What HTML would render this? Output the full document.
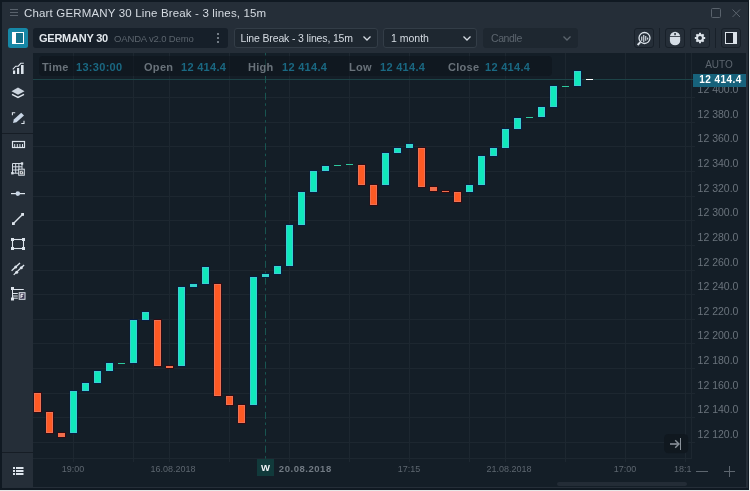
<!DOCTYPE html>
<html><head><meta charset="utf-8"><title>Chart</title>
<style>
html,body{margin:0;padding:0;background:#101922;}
body{width:750px;height:491px;position:relative;overflow:hidden;font-family:"Liberation Sans",sans-serif;}
.abs{position:absolute}
#win{position:absolute;left:2px;top:2px;width:746px;height:486px;background:#252e38;}
#chart{position:absolute;left:33px;top:53px;width:713px;height:434px;background:#141e27;}
#title{position:absolute;left:24px;top:5px;font-size:11.5px;letter-spacing:0.16px;color:#d5dbe2;white-space:nowrap;line-height:16px}
.pl{position:absolute;left:691px;width:54px;text-align:center;font-size:10.5px;color:#6a737c;line-height:12px;white-space:nowrap}
.tl{position:absolute;top:463px;font-size:9px;color:#5d666f;line-height:12px;white-space:nowrap;transform:translateX(-50%)}
.dd{position:absolute;top:28px;height:18px;border:1px solid #333d47;border-radius:3px;background:#1e2730;font-size:10.5px;color:#d5dbe2;line-height:18px;white-space:nowrap}
.dd span{position:absolute;left:5.500px;top:0}
.btn{position:absolute;top:28px;width:18px;height:18px;border:1px solid #182029;border-radius:3px;background:#252e38}
.sep{position:absolute;top:28px;width:1px;height:20px;background:#182029}
.il{position:absolute;top:56.500px;font-size:11px;font-weight:bold;line-height:20px;white-space:nowrap;letter-spacing:0.3px}
.k{color:#69727a} .v{color:#1a6882}
</style></head><body>
<div id="wrap" style="position:absolute;left:0;top:0;width:750px;height:491px;will-change:transform">
<div id="win"></div>
<div id="chart"></div>
<div class="abs" style="left:0;top:490px;width:750px;height:1px;background:#e8e8e8"></div>
<div class="abs" style="left:749px;top:0;width:1px;height:491px;background:#e8e8e8"></div>
<!-- title -->
<svg class="abs" style="left:0;top:0" width="750" height="27">
<g stroke="#59626c" stroke-width="1" fill="none">
<path d="M10 9.5H18M10 12.5H18M10 15.5H18"/>
<rect x="711.5" y="8.5" width="9" height="9" rx="1"/>
<path d="M732.5 9.5L740 17M740 9.5L732.5 17"/>
</g></svg>
<div id="title">Chart GERMANY 30 Line Break - 3 lines, 15m</div>
<!-- toolbar -->
<div class="abs" style="left:8px;top:28px;width:20px;height:20px;background:#1687a6;border-radius:2.500px"></div>
<svg class="abs" style="left:8px;top:28px" width="20" height="20"><rect x="4.5" y="4.5" width="11" height="11" fill="#14708a" stroke="#fff" stroke-width="1"/><rect x="4" y="4" width="4" height="12" fill="#fff"/></svg>
<div class="abs" style="left:33px;top:28px;width:195px;height:20px;background:#161f29;border-radius:3px"></div>
<div class="abs" style="left:39px;top:28px;font-size:11px;font-weight:bold;color:#e2e7ec;line-height:20px;white-space:nowrap;letter-spacing:-0.24px">GERMANY 30</div>
<div class="abs" style="left:114px;top:28px;font-size:9.5px;letter-spacing:-0.15px;color:#5b646d;line-height:21px;white-space:nowrap">OANDA v2.0 Demo</div>
<svg class="abs" style="left:214px;top:30px" width="8" height="16"><g fill="#727b84"><rect x="3" y="3" width="2" height="2"/><rect x="3" y="7" width="2" height="2"/><rect x="3" y="11" width="2" height="2"/></g></svg>
<div class="dd" style="left:234px;width:142px"><span style="letter-spacing:-0.15px">Line Break - 3 lines, 15m</span></div>
<div class="dd" style="left:383px;width:92px"><span style="left:7px">1 month</span></div>
<div class="dd" style="left:483px;width:93px;border-color:#1e2730;color:#5c656e"><span style="left:7px;letter-spacing:-0.4px">Candle</span></div>
<svg class="abs" style="left:0;top:28px" width="750" height="20"><g fill="none" stroke="#d5dbe2" stroke-width="1.3"><path d="M363.5 8.5L367 12L370.500 8.500"/><path d="M463.500 8.500L467 12L470.500 8.500"/><path d="M563.500 8.500L567 12L570.500 8.500" stroke="#5c656e"/></g></svg>
<div class="btn" style="left:634px"></div>
<div class="sep" style="left:659px"></div>
<div class="btn" style="left:665px"></div>
<div class="btn" style="left:690px"></div>
<div class="sep" style="left:715px"></div>
<div class="btn" style="left:721px"></div>
<svg class="abs" style="left:634px;top:28px" width="108" height="20">
<g fill="none" stroke="#dce3ea" stroke-width="1.300"><circle cx="10.500" cy="10" r="5.500"/><path d="M6.400 14.200L3.600 17" stroke-width="1.900"/></g>
<g fill="#dce3ea"><rect x="7.200" y="8.500" width="1.100" height="4.300"/><rect x="9.200" y="7" width="1.100" height="7"/><rect x="11.200" y="8" width="1.100" height="4.800"/><rect x="13.100" y="9.600" width="1.100" height="2"/></g>
<!-- mouse -->
<path d="M35.900 9 a5.150 5.300 0 0 1 10.300 0 v3.700 a5.150 4.500 0 0 1 -10.300 0z" fill="#d5dde6"/>
<rect x="35.500" y="8" width="11.200" height="0.800" fill="#252e38"/><rect x="40.300" y="5" width="1.500" height="2.200" fill="#252e38"/>
<!-- gear -->
<g transform="translate(66,10) scale(0.82)"><circle r="3.600" fill="none" stroke="#dce3ea" stroke-width="2.400"/>
<g stroke="#dce3ea" stroke-width="2.400"><path d="M0 -6.300V-4M0 6.300V4M-6.300 0H-4M6.300 0H4M-4.400 -4.400L-3 -3M4.400 4.400L3 3M-4.400 4.400L-3 3M4.400 -4.400L3 -3"/></g></g>
<!-- panel icon -->
<rect x="91.500" y="4.500" width="11" height="11" fill="#1b222b" stroke="#dce3ea" stroke-width="1"/><rect x="99" y="4" width="4" height="12" fill="#dce3ea"/>
</svg>
<!-- left panel -->
<div class="abs" style="left:2px;top:133px;width:31px;height:1px;background:#161d25"></div>
<div class="abs" style="left:2px;top:452px;width:31px;height:1px;background:#161d25"></div>
<svg class="abs" style="left:0;top:0" width="40" height="491">
<g fill="#dde4ec" stroke="none">
<!-- bars -->
<rect x="13" y="70.500" width="2.200" height="3.500"/><rect x="17" y="68" width="2.200" height="6"/><rect x="21" y="65" width="2.600" height="9"/>
<path d="M12.800 69.300L15.700 66.200H18.200L20.800 63.300H23.800" fill="none" stroke="#dde4ec" stroke-width="1.100"/>
<!-- layers -->
<path d="M18 87.600L24.500 91.200L18 94.800L11.500 91.200Z" fill="#cbd4de"/>
<path d="M12 94.300L18 97.500L24 94.300" fill="none" stroke="#dde4ec" stroke-width="1.500"/>
<!-- pencil -->
<path d="M12.400 115.200V112.700H15.200M24 120.800V123.500H21.300" fill="none" stroke="#dde4ec" stroke-width="1.100"/>
<path d="M13 123L13.800 119.600L21.200 112.800L24 115.400L16.500 122.300Z" fill="#c9d6e6"/>
<!-- ruler -->
<rect x="12.500" y="141.500" width="12" height="6" fill="none" stroke="#dde4ec" stroke-width="1.200"/>
<rect x="14.200" y="144" width="1" height="3"/><rect x="16.800" y="144" width="1" height="3"/><rect x="19.400" y="144" width="1" height="3"/><rect x="22" y="144" width="1" height="3"/>
<!-- grid G -->
<g fill="none" stroke="#d3dbe4" stroke-width="1"><path d="M12.500 163.500H22M12.500 166.800H22M12.500 170H19M12.500 173.200H19M12.500 163.500V173.200M15.700 163.500V173.200M18.900 163.500V170M22 163.500V169"/></g>
<rect x="11.200" y="172" width="2.400" height="2.400"/><rect x="20.800" y="162.300" width="2.400" height="2.400"/>
<rect x="18.700" y="169.200" width="5.600" height="6" fill="#252e38" stroke="#dde4ec" stroke-width="1"/>
<path d="M22.900 171.200H20.300V173.800H22.900V172.500H21.800" fill="none" stroke="#fff" stroke-width="0.900"/>
<!-- hline -->
<rect x="11" y="193" width="14" height="1.200"/><circle cx="17.800" cy="193.600" r="2.300" fill="#c9d6e6"/>
<!-- trend -->
<path d="M13.400 223.500L22.500 214.400" stroke="#dde4ec" stroke-width="1.400"/>
<rect x="12" y="222.200" width="2.800" height="2.800"/><rect x="21.200" y="213" width="2.800" height="2.800"/>
<!-- rect -->
<rect x="12.500" y="239.500" width="11" height="9" fill="none" stroke="#dde4ec" stroke-width="1.100"/>
<rect x="11" y="238" width="3" height="3"/><rect x="22" y="238" width="3" height="3"/><rect x="11" y="247" width="3" height="3"/><rect x="22" y="247" width="3" height="3"/>
<!-- channel -->
<path d="M11.600 270.800L20 263M13.700 274.900L24.100 265" stroke="#dde4ec" stroke-width="1.300"/>
<circle cx="15.700" cy="267" r="1.500"/><circle cx="21.300" cy="267.700" r="1.500"/><circle cx="16.700" cy="272.300" r="1.500"/>
<!-- fib -->
<path d="M12.500 288V299.500M12.500 289.500H23.800M12.500 293.500H17.800M12.500 296H17.800M12.500 298.200H17.800" fill="none" stroke="#dde4ec" stroke-width="1"/>
<rect x="11" y="287" width="3" height="3"/><rect x="11" y="297.500" width="3" height="3"/>
<rect x="19.200" y="292.700" width="5.800" height="6.600" fill="#3a3550" stroke="#dde4ec" stroke-width="1"/>
<path d="M21 298V294.300H23.400M21 296.200H22.800" fill="none" stroke="#fff" stroke-width="1"/>
<!-- list -->
<rect x="13" y="467" width="2" height="2"/><rect x="16" y="467" width="7.500" height="2"/>
<rect x="13" y="470" width="2" height="2"/><rect x="16" y="470" width="7.500" height="2"/>
<rect x="13" y="473" width="2" height="2"/><rect x="16" y="473" width="7.500" height="2"/>
</g>
</svg>
<!-- chart -->
<svg class="abs" style="left:0;top:0" width="750" height="491">
<rect x="33" y="97" width="662" height="1" fill="#1d2730"/>
<rect x="33" y="122" width="662" height="1" fill="#1d2730"/>
<rect x="33" y="146" width="662" height="1" fill="#1d2730"/>
<rect x="33" y="171" width="662" height="1" fill="#1d2730"/>
<rect x="33" y="196" width="662" height="1" fill="#1d2730"/>
<rect x="33" y="220" width="662" height="1" fill="#1d2730"/>
<rect x="33" y="245" width="662" height="1" fill="#1d2730"/>
<rect x="33" y="270" width="662" height="1" fill="#1d2730"/>
<rect x="33" y="294" width="662" height="1" fill="#1d2730"/>
<rect x="33" y="319" width="662" height="1" fill="#1d2730"/>
<rect x="33" y="343" width="662" height="1" fill="#1d2730"/>
<rect x="33" y="368" width="662" height="1" fill="#1d2730"/>
<rect x="33" y="393" width="662" height="1" fill="#1d2730"/>
<rect x="33" y="417" width="662" height="1" fill="#1d2730"/>
<rect x="33" y="442" width="662" height="1" fill="#1d2730"/>
<rect x="73" y="53" width="1" height="409" fill="#1d2730"/>
<rect x="133" y="53" width="1" height="409" fill="#1d2730"/>
<rect x="169" y="53" width="1" height="409" fill="#1d2730"/>
<rect x="229" y="53" width="1" height="409" fill="#1d2730"/>
<rect x="289" y="53" width="1" height="409" fill="#1d2730"/>
<rect x="349" y="53" width="1" height="409" fill="#1d2730"/>
<rect x="409" y="53" width="1" height="409" fill="#1d2730"/>
<rect x="469" y="53" width="1" height="409" fill="#1d2730"/>
<rect x="505" y="53" width="1" height="409" fill="#1d2730"/>
<rect x="565" y="53" width="1" height="409" fill="#1d2730"/>
<rect x="625" y="53" width="1" height="409" fill="#1d2730"/>
<rect x="685" y="53" width="1" height="409" fill="#1d2730"/>
<rect x="691" y="53" width="1" height="406" fill="#1d2730"/>
<rect x="33" y="458" width="659" height="1" fill="#1d2730"/>
<rect x="33" y="79" width="660" height="1" fill="#1d4347"/>
<line x1="265.5" y1="53" x2="265.5" y2="459" stroke="#185551" stroke-width="1" stroke-dasharray="7 3.500 2.500 3.800" stroke-dashoffset="10.600"/>
<rect x="34" y="392" width="8" height="21" fill="#3a060c" opacity="0.8"/>
<rect x="33" y="392" width="1" height="21" fill="#3a060c" opacity="0.35"/>
<rect x="34" y="393" width="7" height="19" fill="#ff5a24"/>
<rect x="34.5" y="393.5" width="6" height="18" fill="none" stroke="#dc8a86" stroke-width="1" opacity="0.5"/>
<rect x="46" y="411" width="8" height="23" fill="#3a060c" opacity="0.8"/>
<rect x="45" y="411" width="1" height="23" fill="#3a060c" opacity="0.35"/>
<rect x="46" y="412" width="7" height="21" fill="#ff5a24"/>
<rect x="46.5" y="412.5" width="6" height="20" fill="none" stroke="#dc8a86" stroke-width="1" opacity="0.5"/>
<rect x="58" y="432" width="8" height="6" fill="#3a060c" opacity="0.8"/>
<rect x="57" y="432" width="1" height="6" fill="#3a060c" opacity="0.35"/>
<rect x="58" y="433" width="7" height="4" fill="#ff5a24"/>
<rect x="58" y="433" width="7" height="4" fill="#dc8a86" opacity="0.4"/>
<rect x="70" y="390" width="8" height="44" fill="#031c46" opacity="0.8"/>
<rect x="69" y="390" width="1" height="44" fill="#031c46" opacity="0.35"/>
<rect x="70" y="391" width="7" height="42" fill="#10e8bc"/>
<rect x="70.5" y="391.5" width="6" height="41" fill="none" stroke="#6ab4e6" stroke-width="1" opacity="0.5"/>
<rect x="82" y="382" width="8" height="10" fill="#031c46" opacity="0.8"/>
<rect x="81" y="382" width="1" height="10" fill="#031c46" opacity="0.35"/>
<rect x="82" y="383" width="7" height="8" fill="#10e8bc"/>
<rect x="82.5" y="383.5" width="6" height="7" fill="none" stroke="#6ab4e6" stroke-width="1" opacity="0.5"/>
<rect x="94" y="370" width="8" height="14" fill="#031c46" opacity="0.8"/>
<rect x="93" y="370" width="1" height="14" fill="#031c46" opacity="0.35"/>
<rect x="94" y="371" width="7" height="12" fill="#10e8bc"/>
<rect x="94.5" y="371.5" width="6" height="11" fill="none" stroke="#6ab4e6" stroke-width="1" opacity="0.5"/>
<rect x="106" y="362" width="8" height="10" fill="#031c46" opacity="0.8"/>
<rect x="105" y="362" width="1" height="10" fill="#031c46" opacity="0.35"/>
<rect x="106" y="363" width="7" height="8" fill="#10e8bc"/>
<rect x="106.5" y="363.5" width="6" height="7" fill="none" stroke="#6ab4e6" stroke-width="1" opacity="0.5"/>
<rect x="118" y="363" width="7" height="1" fill="#2ec79c"/>
<rect x="130" y="319" width="8" height="45" fill="#031c46" opacity="0.8"/>
<rect x="129" y="319" width="1" height="45" fill="#031c46" opacity="0.35"/>
<rect x="130" y="320" width="7" height="43" fill="#10e8bc"/>
<rect x="130.5" y="320.5" width="6" height="42" fill="none" stroke="#6ab4e6" stroke-width="1" opacity="0.5"/>
<rect x="142" y="311" width="8" height="10" fill="#031c46" opacity="0.8"/>
<rect x="141" y="311" width="1" height="10" fill="#031c46" opacity="0.35"/>
<rect x="142" y="312" width="7" height="8" fill="#10e8bc"/>
<rect x="142.5" y="312.5" width="6" height="7" fill="none" stroke="#6ab4e6" stroke-width="1" opacity="0.5"/>
<rect x="154" y="319" width="8" height="48" fill="#3a060c" opacity="0.8"/>
<rect x="153" y="319" width="1" height="48" fill="#3a060c" opacity="0.35"/>
<rect x="154" y="320" width="7" height="46" fill="#ff5a24"/>
<rect x="154.5" y="320.5" width="6" height="45" fill="none" stroke="#dc8a86" stroke-width="1" opacity="0.5"/>
<rect x="166" y="365" width="8" height="4" fill="#3a060c" opacity="0.8"/>
<rect x="165" y="365" width="1" height="4" fill="#3a060c" opacity="0.35"/>
<rect x="166" y="366" width="7" height="2" fill="#ff5a24"/>
<rect x="166" y="366" width="7" height="2" fill="#dc8a86" opacity="0.4"/>
<rect x="178" y="286" width="8" height="81" fill="#031c46" opacity="0.8"/>
<rect x="177" y="286" width="1" height="81" fill="#031c46" opacity="0.35"/>
<rect x="178" y="287" width="7" height="79" fill="#10e8bc"/>
<rect x="178.5" y="287.5" width="6" height="78" fill="none" stroke="#6ab4e6" stroke-width="1" opacity="0.5"/>
<rect x="190" y="283" width="8" height="5" fill="#031c46" opacity="0.8"/>
<rect x="189" y="283" width="1" height="5" fill="#031c46" opacity="0.35"/>
<rect x="190" y="284" width="7" height="3" fill="#10e8bc"/>
<rect x="190" y="284" width="7" height="3" fill="#6ab4e6" opacity="0.4"/>
<rect x="202" y="266" width="8" height="19" fill="#031c46" opacity="0.8"/>
<rect x="201" y="266" width="1" height="19" fill="#031c46" opacity="0.35"/>
<rect x="202" y="267" width="7" height="17" fill="#10e8bc"/>
<rect x="202.5" y="267.5" width="6" height="16" fill="none" stroke="#6ab4e6" stroke-width="1" opacity="0.5"/>
<rect x="214" y="283" width="8" height="114" fill="#3a060c" opacity="0.8"/>
<rect x="213" y="283" width="1" height="114" fill="#3a060c" opacity="0.35"/>
<rect x="214" y="284" width="7" height="112" fill="#ff5a24"/>
<rect x="214.5" y="284.5" width="6" height="111" fill="none" stroke="#dc8a86" stroke-width="1" opacity="0.5"/>
<rect x="226" y="395" width="8" height="11" fill="#3a060c" opacity="0.8"/>
<rect x="225" y="395" width="1" height="11" fill="#3a060c" opacity="0.35"/>
<rect x="226" y="396" width="7" height="9" fill="#ff5a24"/>
<rect x="226.5" y="396.5" width="6" height="8" fill="none" stroke="#dc8a86" stroke-width="1" opacity="0.5"/>
<rect x="238" y="404" width="8" height="20" fill="#3a060c" opacity="0.8"/>
<rect x="237" y="404" width="1" height="20" fill="#3a060c" opacity="0.35"/>
<rect x="238" y="405" width="7" height="18" fill="#ff5a24"/>
<rect x="238.5" y="405.5" width="6" height="17" fill="none" stroke="#dc8a86" stroke-width="1" opacity="0.5"/>
<rect x="250" y="276" width="8" height="130" fill="#031c46" opacity="0.8"/>
<rect x="249" y="276" width="1" height="130" fill="#031c46" opacity="0.35"/>
<rect x="250" y="277" width="7" height="128" fill="#10e8bc"/>
<rect x="250.5" y="277.5" width="6" height="127" fill="none" stroke="#6ab4e6" stroke-width="1" opacity="0.5"/>
<rect x="262" y="273" width="8" height="5" fill="#031c46" opacity="0.8"/>
<rect x="261" y="273" width="1" height="5" fill="#031c46" opacity="0.35"/>
<rect x="262" y="274" width="7" height="3" fill="#10e8bc"/>
<rect x="262" y="274" width="7" height="3" fill="#6ab4e6" opacity="0.4"/>
<rect x="274" y="265" width="8" height="10" fill="#031c46" opacity="0.8"/>
<rect x="273" y="265" width="1" height="10" fill="#031c46" opacity="0.35"/>
<rect x="274" y="266" width="7" height="8" fill="#10e8bc"/>
<rect x="274.5" y="266.5" width="6" height="7" fill="none" stroke="#6ab4e6" stroke-width="1" opacity="0.5"/>
<rect x="286" y="224" width="8" height="43" fill="#031c46" opacity="0.8"/>
<rect x="285" y="224" width="1" height="43" fill="#031c46" opacity="0.35"/>
<rect x="286" y="225" width="7" height="41" fill="#10e8bc"/>
<rect x="286.5" y="225.5" width="6" height="40" fill="none" stroke="#6ab4e6" stroke-width="1" opacity="0.5"/>
<rect x="298" y="191" width="8" height="35" fill="#031c46" opacity="0.8"/>
<rect x="297" y="191" width="1" height="35" fill="#031c46" opacity="0.35"/>
<rect x="298" y="192" width="7" height="33" fill="#10e8bc"/>
<rect x="298.5" y="192.5" width="6" height="32" fill="none" stroke="#6ab4e6" stroke-width="1" opacity="0.5"/>
<rect x="310" y="170" width="8" height="23" fill="#031c46" opacity="0.8"/>
<rect x="309" y="170" width="1" height="23" fill="#031c46" opacity="0.35"/>
<rect x="310" y="171" width="7" height="21" fill="#10e8bc"/>
<rect x="310.5" y="171.5" width="6" height="20" fill="none" stroke="#6ab4e6" stroke-width="1" opacity="0.5"/>
<rect x="322" y="165" width="8" height="7" fill="#031c46" opacity="0.8"/>
<rect x="321" y="165" width="1" height="7" fill="#031c46" opacity="0.35"/>
<rect x="322" y="166" width="7" height="5" fill="#10e8bc"/>
<rect x="322.5" y="166.5" width="6" height="4" fill="none" stroke="#6ab4e6" stroke-width="1" opacity="0.5"/>
<rect x="334" y="165" width="7" height="1" fill="#2ec79c"/>
<rect x="346" y="164" width="7" height="1" fill="#2ec79c"/>
<rect x="358" y="164" width="8" height="22" fill="#3a060c" opacity="0.8"/>
<rect x="357" y="164" width="1" height="22" fill="#3a060c" opacity="0.35"/>
<rect x="358" y="165" width="7" height="20" fill="#ff5a24"/>
<rect x="358.5" y="165.5" width="6" height="19" fill="none" stroke="#dc8a86" stroke-width="1" opacity="0.5"/>
<rect x="370" y="184" width="8" height="22" fill="#3a060c" opacity="0.8"/>
<rect x="369" y="184" width="1" height="22" fill="#3a060c" opacity="0.35"/>
<rect x="370" y="185" width="7" height="20" fill="#ff5a24"/>
<rect x="370.5" y="185.5" width="6" height="19" fill="none" stroke="#dc8a86" stroke-width="1" opacity="0.5"/>
<rect x="382" y="152" width="8" height="34" fill="#031c46" opacity="0.8"/>
<rect x="381" y="152" width="1" height="34" fill="#031c46" opacity="0.35"/>
<rect x="382" y="153" width="7" height="32" fill="#10e8bc"/>
<rect x="382.5" y="153.5" width="6" height="31" fill="none" stroke="#6ab4e6" stroke-width="1" opacity="0.5"/>
<rect x="394" y="147" width="8" height="7" fill="#031c46" opacity="0.8"/>
<rect x="393" y="147" width="1" height="7" fill="#031c46" opacity="0.35"/>
<rect x="394" y="148" width="7" height="5" fill="#10e8bc"/>
<rect x="394.5" y="148.5" width="6" height="4" fill="none" stroke="#6ab4e6" stroke-width="1" opacity="0.5"/>
<rect x="406" y="143" width="8" height="6" fill="#031c46" opacity="0.8"/>
<rect x="405" y="143" width="1" height="6" fill="#031c46" opacity="0.35"/>
<rect x="406" y="144" width="7" height="4" fill="#10e8bc"/>
<rect x="406" y="144" width="7" height="4" fill="#6ab4e6" opacity="0.4"/>
<rect x="418" y="147" width="8" height="41" fill="#3a060c" opacity="0.8"/>
<rect x="417" y="147" width="1" height="41" fill="#3a060c" opacity="0.35"/>
<rect x="418" y="148" width="7" height="39" fill="#ff5a24"/>
<rect x="418.5" y="148.5" width="6" height="38" fill="none" stroke="#dc8a86" stroke-width="1" opacity="0.5"/>
<rect x="430" y="186" width="8" height="6" fill="#3a060c" opacity="0.8"/>
<rect x="429" y="186" width="1" height="6" fill="#3a060c" opacity="0.35"/>
<rect x="430" y="187" width="7" height="4" fill="#ff5a24"/>
<rect x="430" y="187" width="7" height="4" fill="#dc8a86" opacity="0.4"/>
<rect x="442" y="190" width="8" height="3" fill="#3a060c" opacity="0.8"/>
<rect x="441" y="190" width="1" height="3" fill="#3a060c" opacity="0.35"/>
<rect x="442" y="191" width="7" height="1" fill="#ff5a24"/>
<rect x="442" y="191" width="7" height="1" fill="#dc8a86" opacity="0.4"/>
<rect x="454" y="191" width="8" height="12" fill="#3a060c" opacity="0.8"/>
<rect x="453" y="191" width="1" height="12" fill="#3a060c" opacity="0.35"/>
<rect x="454" y="192" width="7" height="10" fill="#ff5a24"/>
<rect x="454.5" y="192.5" width="6" height="9" fill="none" stroke="#dc8a86" stroke-width="1" opacity="0.5"/>
<rect x="466" y="184" width="8" height="9" fill="#031c46" opacity="0.8"/>
<rect x="465" y="184" width="1" height="9" fill="#031c46" opacity="0.35"/>
<rect x="466" y="185" width="7" height="7" fill="#10e8bc"/>
<rect x="466.5" y="185.5" width="6" height="6" fill="none" stroke="#6ab4e6" stroke-width="1" opacity="0.5"/>
<rect x="478" y="155" width="8" height="31" fill="#031c46" opacity="0.8"/>
<rect x="477" y="155" width="1" height="31" fill="#031c46" opacity="0.35"/>
<rect x="478" y="156" width="7" height="29" fill="#10e8bc"/>
<rect x="478.5" y="156.5" width="6" height="28" fill="none" stroke="#6ab4e6" stroke-width="1" opacity="0.5"/>
<rect x="490" y="147" width="8" height="10" fill="#031c46" opacity="0.8"/>
<rect x="489" y="147" width="1" height="10" fill="#031c46" opacity="0.35"/>
<rect x="490" y="148" width="7" height="8" fill="#10e8bc"/>
<rect x="490.5" y="148.5" width="6" height="7" fill="none" stroke="#6ab4e6" stroke-width="1" opacity="0.5"/>
<rect x="502" y="128" width="8" height="21" fill="#031c46" opacity="0.8"/>
<rect x="501" y="128" width="1" height="21" fill="#031c46" opacity="0.35"/>
<rect x="502" y="129" width="7" height="19" fill="#10e8bc"/>
<rect x="502.5" y="129.5" width="6" height="18" fill="none" stroke="#6ab4e6" stroke-width="1" opacity="0.5"/>
<rect x="514" y="117" width="8" height="13" fill="#031c46" opacity="0.8"/>
<rect x="513" y="117" width="1" height="13" fill="#031c46" opacity="0.35"/>
<rect x="514" y="118" width="7" height="11" fill="#10e8bc"/>
<rect x="514.5" y="118.5" width="6" height="10" fill="none" stroke="#6ab4e6" stroke-width="1" opacity="0.5"/>
<rect x="526" y="117" width="7" height="1" fill="#2ec79c"/>
<rect x="538" y="106" width="8" height="12" fill="#031c46" opacity="0.8"/>
<rect x="537" y="106" width="1" height="12" fill="#031c46" opacity="0.35"/>
<rect x="538" y="107" width="7" height="10" fill="#10e8bc"/>
<rect x="538.5" y="107.5" width="6" height="9" fill="none" stroke="#6ab4e6" stroke-width="1" opacity="0.5"/>
<rect x="550" y="85" width="8" height="23" fill="#031c46" opacity="0.8"/>
<rect x="549" y="85" width="1" height="23" fill="#031c46" opacity="0.35"/>
<rect x="550" y="86" width="7" height="21" fill="#10e8bc"/>
<rect x="550.5" y="86.5" width="6" height="20" fill="none" stroke="#6ab4e6" stroke-width="1" opacity="0.5"/>
<rect x="562" y="86" width="7" height="1" fill="#2ec79c"/>
<rect x="574" y="70" width="8" height="17" fill="#031c46" opacity="0.8"/>
<rect x="573" y="70" width="1" height="17" fill="#031c46" opacity="0.35"/>
<rect x="574" y="71" width="7" height="15" fill="#10e8bc"/>
<rect x="574.5" y="71.5" width="6" height="14" fill="none" stroke="#6ab4e6" stroke-width="1" opacity="0.5"/>
<rect x="586" y="79" width="7" height="1" fill="#ffffff"/>
</svg>
<div class="abs" style="left:39px;top:56.400px;width:513px;height:20px;background:rgba(12,18,25,0.5);border-radius:4px"></div>
<div class="il k" style="left:42px">Time</div><div class="il v" style="left:76px">13:30:00</div>
<div class="il k" style="left:144px">Open</div><div class="il v" style="left:181px">12 414.4</div>
<div class="il k" style="left:248px">High</div><div class="il v" style="left:282px">12 414.4</div>
<div class="il k" style="left:349px">Low</div><div class="il v" style="left:380px">12 414.4</div>
<div class="il k" style="left:448px">Close</div><div class="il v" style="left:485px">12 414.4</div>
<!-- price axis -->
<div class="pl" style="top:59px;color:#5d666f;font-size:10px;left:692px">AUTO</div>
<div class="pl" style="top:82.6px">12 400.0</div><div class="pl" style="top:107.6px">12 380.0</div><div class="pl" style="top:131.6px">12 360.0</div><div class="pl" style="top:156.6px">12 340.0</div><div class="pl" style="top:181.6px">12 320.0</div><div class="pl" style="top:205.6px">12 300.0</div><div class="pl" style="top:230.6px">12 280.0</div><div class="pl" style="top:255.6px">12 260.0</div><div class="pl" style="top:279.6px">12 240.0</div><div class="pl" style="top:304.6px">12 220.0</div><div class="pl" style="top:328.6px">12 200.0</div><div class="pl" style="top:353.6px">12 180.0</div><div class="pl" style="top:378.6px">12 160.0</div><div class="pl" style="top:402.6px">12 140.0</div><div class="pl" style="top:427.6px">12 120.0</div>
<div class="abs" style="left:693px;top:74px;width:53px;height:13px;background:#17627b"></div>
<div class="abs" style="left:693.500px;top:74px;width:54px;text-align:center;font-size:10px;letter-spacing:0.45px;font-weight:bold;color:#fff;line-height:12px;white-space:nowrap">12 414.4</div>
<!-- time axis -->
<div class="tl" style="left:73px">19:00</div>
<div class="tl" style="left:173px">16.08.2018</div>
<div class="abs" style="left:257px;top:459px;width:17px;height:16.500px;background:#113a3b"></div>
<div class="abs" style="left:257px;top:459px;width:17px;text-align:center;font-size:9.500px;font-weight:bold;color:#f2f5f7;line-height:18px">W</div>
<div class="tl" style="left:305.300px;font-weight:bold;color:#717a83;font-size:9.500px;letter-spacing:0.54px;top:463px">20.08.2018</div>
<div class="tl" style="left:409px">17:15</div>
<div class="tl" style="left:509px">21.08.2018</div>
<div class="tl" style="left:625px">17:00</div>
<div class="abs" style="left:674px;top:463px;width:18px;overflow:hidden;font-size:9px;color:#5d666f;line-height:12px;white-space:nowrap">18:15</div>
<svg class="abs" style="left:660px;top:430px" width="90" height="61">
<rect x="4" y="4" width="24.200" height="19.300" rx="4.500" fill="#10171f" opacity="0.9"/>
<g stroke="#8a929a" fill="none"><path d="M10 14H18.500" stroke-width="1.600"/><path d="M15.200 10.300L19 14L15.200 17.700" stroke-width="1.400"/><path d="M20.500 8V20" stroke-width="1"/></g>
<g stroke="#5d666f" stroke-width="1"><path d="M36 41.500H48M64 41.500H75M69.500 36V47"/></g>
</svg>
<div class="abs" style="left:557px;top:482px;width:130px;height:4px;border-radius:2px;background:#232c36"></div>
</div>
</body></html>
